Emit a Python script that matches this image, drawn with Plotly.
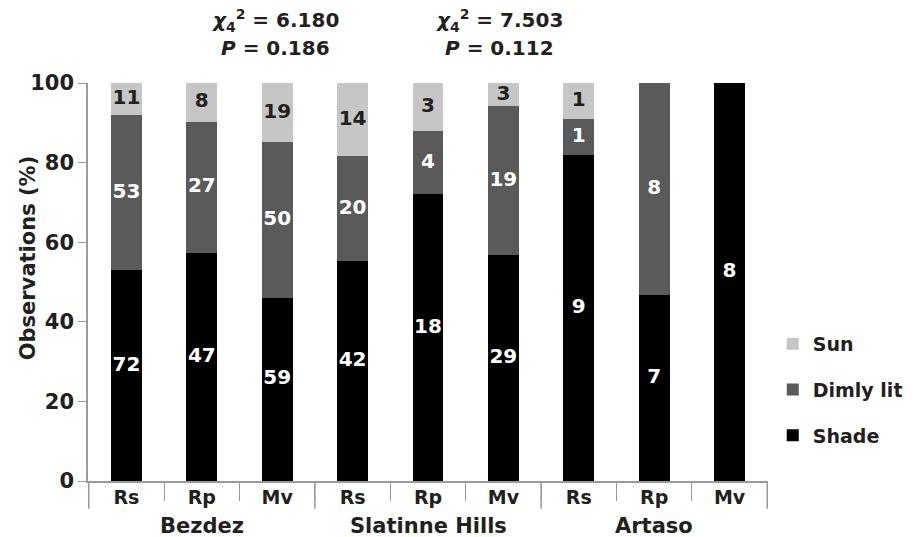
import plotly.graph_objects as go

# Observation counts of light exposure for each species at each site
site_names = ["Bezdez", "Slatinne Hills", "Artaso"]
sites = ["Bezdez"] * 3 + ["Slatinne Hills"] * 3 + ["Artaso"] * 3
species = ["Rs", "Rp", "Mv"] * 3
shade = [72, 47, 59, 42, 18, 29, 9, 7, 8]
dimly_lit = [53, 27, 50, 20, 4, 19, 1, 8, 0]
sun = [11, 8, 19, 14, 3, 3, 1, 0, 0]

y_ticks = [0, 20, 40, 60, 80, 100]
stats_text = [
    ("<i>χ</i><sub>4</sub><sup>2</sup> = 6.180", "<b><i>P</i> = 0.186</b>"),
    ("<i>χ</i><sub>4</sub><sup>2</sup> = 7.503", "<b><i>P</i> = 0.112</b>"),
]

FONT = "DejaVu Sans"
C_SUN, C_DIM, C_SHADE = "#c6c6c6", "#5a5a5a", "#000000"
AXIS_GREY = "#9a9a9a"
TXT = "#231f20"

keys = [f"{s}|{c}" for s, c in zip(sites, species)]
totals = [a + b + c for a, b, c in zip(shade, dimly_lit, sun)]
pct = lambda vals: [v / t * 100 for v, t in zip(vals, totals)]
p_shade, p_dim, p_sun = pct(shade), pct(dimly_lit), pct(sun)

fig = go.Figure()
series = [
    ("Shade", p_shade, C_SHADE, 3),
    ("Dimly lit", p_dim, C_DIM, 2),
    ("Sun", p_sun, C_SUN, 1),
]
for name, vals, col, rank in series:
    fig.add_trace(go.Bar(
        x=keys, y=vals, name=name, marker=dict(color=col, line=dict(width=0)),
        legendgroup=name, legendrank=rank,
    ))

# Count labels placed at the middle of each stacked segment
def add_labels(counts, lower, upper, color, lift=0.0):
    xs, ys, txt = [], [], []
    for i, n in enumerate(counts):
        if n == 0:
            continue
        xs.append(keys[i])
        ys.append((lower[i] + upper[i]) / 2 + lift)
        txt.append(f"<b>{n}</b>")
    fig.add_trace(go.Scatter(
        x=xs, y=ys, text=txt, mode="text", showlegend=False,
        textposition="middle center", hoverinfo="skip",
        textfont=dict(family=FONT, size=20, color=color),
    ))

zero = [0] * len(shade)
top_shade = p_shade
top_dim = [a + b for a, b in zip(p_shade, p_dim)]
top_sun = [a + b for a, b in zip(top_dim, p_sun)]
add_labels(shade, zero, top_shade, "white", lift=2.5)
add_labels(dimly_lit, top_shade, top_dim, "white")
add_labels(sun, top_dim, top_sun, TXT)

fig.update_layout(
    barmode="stack",
    bargap=0.59,
    width=917, height=537,
    margin=dict(l=88, r=149, t=83, b=56, autoexpand=False),
    plot_bgcolor="white", paper_bgcolor="white",
    font=dict(family=FONT, color=TXT),
    legend=dict(
        x=1.007, xanchor="left", y=0.392, yanchor="top",
        traceorder="grouped", tracegroupgap=18,
        font=dict(family=FONT, size=19, color=TXT, weight="bold"),
        itemwidth=30,
    ),
)

fig.update_xaxes(
    type="category", categoryorder="array", categoryarray=keys,
    tickvals=keys, ticktext=[f"<b>{c}</b>" for c in species],
    showline=True, linecolor=AXIS_GREY, linewidth=1.5,
    ticks="outside", tickson="boundaries", ticklen=18, tickcolor=AXIS_GREY,
    ticklabelstandoff=-2, automargin=False,
    tickfont=dict(family=FONT, size=19, color=TXT),
    showgrid=False,
)
fig.update_yaxes(
    range=[0, 100], tickvals=y_ticks, ticktext=[f"<b>{v}</b>" for v in y_ticks],
    showline=True, linecolor=AXIS_GREY, linewidth=1.5,
    ticks="outside", ticklen=8, tickcolor=AXIS_GREY,
    automargin=False,
    tickfont=dict(family=FONT, size=21, color=TXT),
    showgrid=False, zeroline=False,
)

# Site names under each group of three, with longer dividers between groups
n_per = 3
for g, name in enumerate(site_names):
    fig.add_annotation(
        text=f"<b>{name}</b>", showarrow=False, xref="x", yref="paper",
        x=g * n_per + (n_per - 1) / 2, y=0, yanchor="middle", yshift=-45,
        font=dict(family=FONT, size=21, color=TXT),
    )
for b in range(len(site_names) + 1):
    fig.add_shape(
        type="line", xref="x", yref="paper",
        x0=b * n_per - 0.5, x1=b * n_per - 0.5, y0=0, y1=-0.07,
        line=dict(color=AXIS_GREY, width=1.5),
    )

# Vertical axis title
fig.add_annotation(
    text="<b>Observations (%)</b>", textangle=-90, showarrow=False,
    xref="paper", yref="paper", x=-0.088, y=0.56,
    xanchor="center", yanchor="middle",
    font=dict(family=FONT, size=21, color=TXT),
)

# Chi-square test results above the first two sites
for (line1, line2), xp in zip(stats_text, [0.275, 0.605]):
    fig.add_annotation(
        text=f"<b>{line1}</b>", showarrow=False, xref="paper", yref="paper",
        x=xp, y=1.158, xanchor="center", yanchor="middle",
        font=dict(family=FONT, size=20, color=TXT),
    )
    fig.add_annotation(
        text=line2, showarrow=False, xref="paper", yref="paper",
        x=xp, y=1.088, xanchor="center", yanchor="middle",
        font=dict(family=FONT, size=20, color=TXT),
    )

fig.write_html("out.html")
